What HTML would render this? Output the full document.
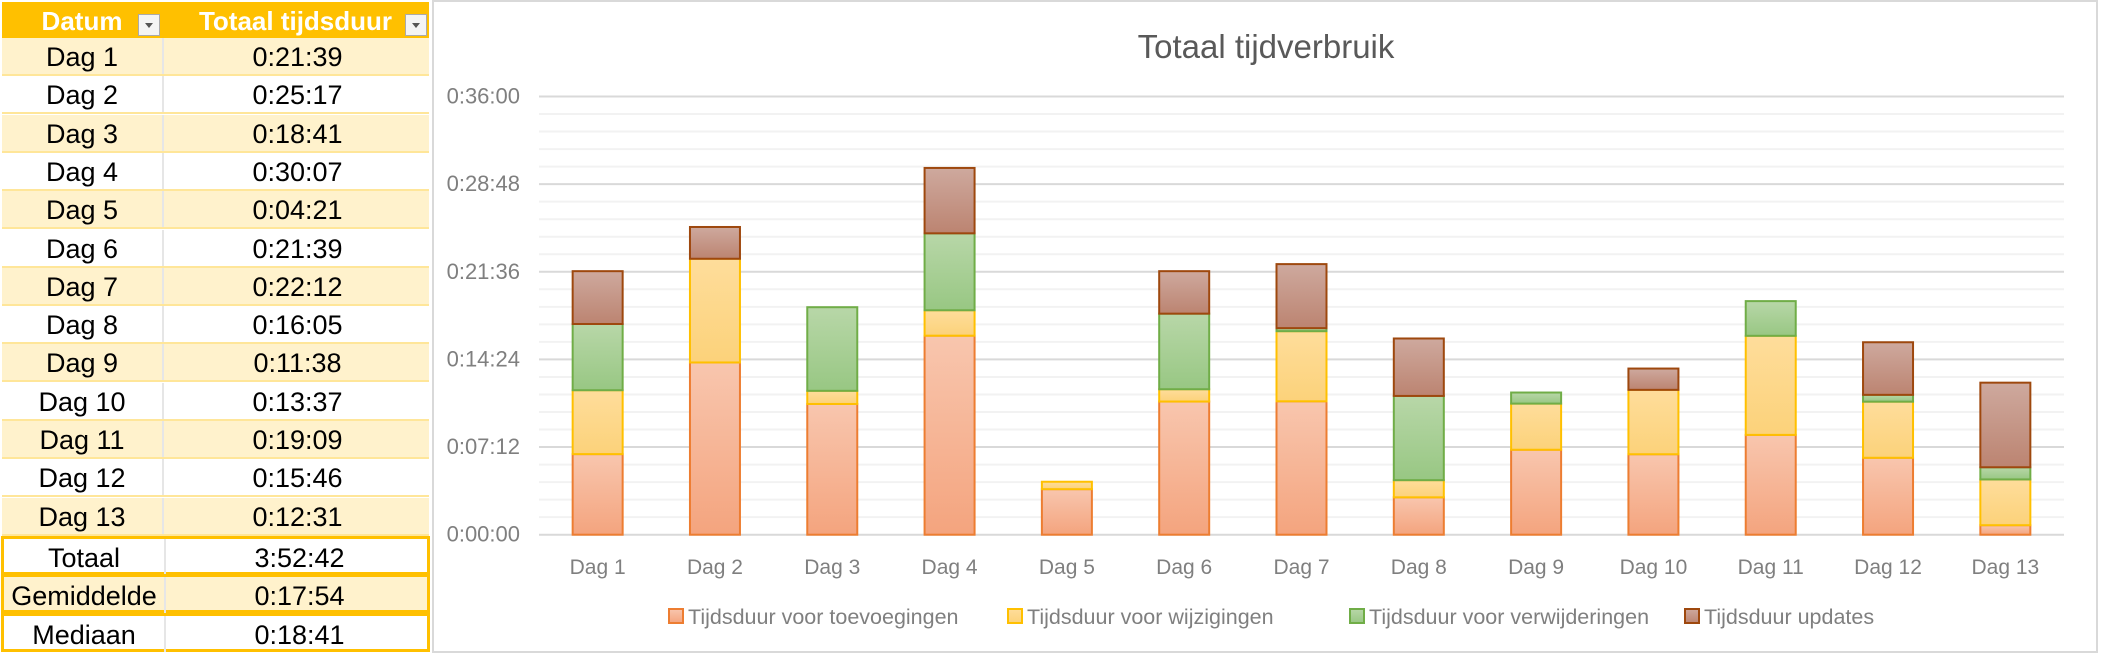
<!DOCTYPE html>
<html><head><meta charset="utf-8">
<style>
body{margin:0;width:2101px;height:655px;background:#fff;position:relative;overflow:hidden;font-family:"Liberation Sans",sans-serif;}
#tbl{position:absolute;left:0;top:0;width:430px;}
.row{position:absolute;left:2px;width:427px;height:38px;font-size:27px;color:#000;box-sizing:border-box;border-bottom:2px solid #FFE699;}
.row span{position:absolute;top:0;line-height:38px;text-align:center;}
.c1{left:0;width:160px;}
.c2{left:160px;width:267px;border-left:2px solid #e6e6e6;height:36px;}
.hdr{background:#FFC000;color:#fff;font-weight:bold;font-size:26px;border:none;}
.hdr .c2{border:none;}
.dd{position:absolute;top:12px;width:22px;height:22px;background:#f4f4f4;border:1px solid #aaa;box-sizing:border-box;}
.dd:after{content:"";position:absolute;left:6px;top:8px;border-left:4px solid transparent;border-right:4px solid transparent;border-top:5px solid #555;}
.odd{background:#FFF2CC;}
.sum{border:3px solid #FFC000;}
</style></head><body>
<div id="tbl"></div>
<div style="position:absolute;left:432px;top:0;width:1666px;height:653px;border:2px solid #d9d9d9;box-sizing:border-box;"></div>
<svg id="chart" width="2101" height="655" style="position:absolute;left:0;top:0"></svg>
<script>
const days=["Dag 1","Dag 2","Dag 3","Dag 4","Dag 5","Dag 6","Dag 7","Dag 8","Dag 9","Dag 10","Dag 11","Dag 12","Dag 13"];
const totals=["0:21:39","0:25:17","0:18:41","0:30:07","0:04:21","0:21:39","0:22:12","0:16:05","0:11:38","0:13:37","0:19:09","0:15:46","0:12:31"];
const summaryLabels=["Totaal","Gemiddelde","Mediaan"];
const summaryValues=["3:52:42","0:17:54","0:18:41"];
// minutes per series
const toevoegingen=[6.62,14.15,10.74,16.35,3.74,10.94,10.96,3.07,6.98,6.61,8.20,6.32,0.78];
const wijzigingen=[5.25,8.52,1.08,2.09,0.61,1.01,5.76,1.41,3.79,5.29,8.14,4.61,3.76];
const verwijderingen=[5.44,0,6.87,6.32,0,6.21,0.25,6.92,0.91,0,2.85,0.56,1.00];
const updates=[4.34,2.61,0,5.37,0,3.49,5.26,4.72,0,1.75,0,4.32,6.95];
const yTicks=["0:00:00","0:07:12","0:14:24","0:21:36","0:28:48","0:36:00"];
const seriesNames=["Tijdsduur voor toevoegingen","Tijdsduur voor wijzigingen","Tijdsduur voor verwijderingen","Tijdsduur updates"];

// table
const tbl=document.getElementById('tbl');
function addRow(i,a,b,cls){
  const r=document.createElement('div');
  r.className='row '+cls;
  r.style.top=(i===0?0:38+(i-1)*38.3)+'px';
  
  
  r.innerHTML='<span class="c1">'+a+'</span><span class="c2">'+b+'</span>';
  tbl.appendChild(r);return r;
}
const h=addRow(0,'Datum','Totaal tijdsduur','hdr');
h.style.left='2px';h.style.top='2px';
const d1=document.createElement('div');d1.className='dd';d1.style.left='136px';


h.appendChild(d1);
const d2=document.createElement('div');d2.className='dd';d2.style.left='403px';


h.appendChild(d2);
days.forEach((d,i)=>addRow(i+1,d,totals[i],i%2===0?'odd':''));
summaryLabels.forEach((s,i)=>{const r=addRow(14+i,s,summaryValues[i],'sum '+(i===1?'odd':''));r.style.height='39px';r.style.left='1px';r.style.width='429px';});

// chart
const svg=document.getElementById('chart');
const NS='http://www.w3.org/2000/svg';
function el(t,a,p){const e=document.createElementNS(NS,t);for(const k in a)e.setAttribute(k,a[k]);(p||svg).appendChild(e);return e;}
const x0=539,x1=2064,y0=534.7,yTop=96.5,maxV=36;
const y=v=>y0-(v/maxV)*(y0-yTop);
const bw=(x1-x0)/days.length;
const xc=i=>x0+bw*(i+0.5);
const defs=el('defs',{});
const fills=[["#F8C6AE","#F4A47E"],["#FEDD9B","#FCD27A"],["#B8D7A8","#98C783"],["#CEA99E","#BC8471"]];
const strokes=["#ED7D31","#FFC000","#70AD47","#9E480E"];
fills.forEach((f,i)=>{const g=el('linearGradient',{id:'g'+i,x1:0,y1:0,x2:0,y2:1},defs);el('stop',{offset:0,'stop-color':f[0]},g);el('stop',{offset:1,'stop-color':f[1]},g);});
for(let k=0;k<=25;k++){const v=k*1.44;const ln=el('line',{x1:x0,x2:x1,y1:y(v),y2:y(v),stroke:k%5===0?'#D9D9D9':'#F2F2F2','stroke-width':2});

}
yTicks.forEach((t,i)=>{const tx=el('text',{x:520,y:y(i*7.2)+7,'text-anchor':'end','font-size':22,fill:'#7F7F7F'});tx.textContent=t;

});
const series=[toevoegingen,wijzigingen,verwijderingen,updates];
const barW=50;
days.forEach((d,i)=>{
  let cum=0;
  series.forEach((s,j)=>{
    const v=s[i];if(v<=0)return;
    const r=el('rect',{x:xc(i)-barW/2,y:y(cum+v),width:barW,height:y(cum)-y(cum+v),fill:'url(#g'+j+')',stroke:strokes[j],'stroke-width':2});
    
    
    cum+=v;
  });
  const tx=el('text',{x:xc(i),y:574,'text-anchor':'middle','font-size':21,fill:'#7F7F7F'});tx.textContent=d;
  
  
});
const title=el('text',{x:1266,y:58,'text-anchor':'middle','font-size':33,fill:'#595959'});title.textContent='Totaal tijdverbruik';


const lx=[669,1008,1350,1685];
seriesNames.forEach((n,j)=>{
  const g=el('g',{});
  
  
  el('rect',{x:lx[j],y:609,width:14,height:14,fill:'url(#g'+j+')',stroke:strokes[j],'stroke-width':2},g);
  const t=el('text',{x:lx[j]+19,y:624,'font-size':21.5,fill:'#7F7F7F'},g);t.textContent=n;
});
</script>
</body></html>
